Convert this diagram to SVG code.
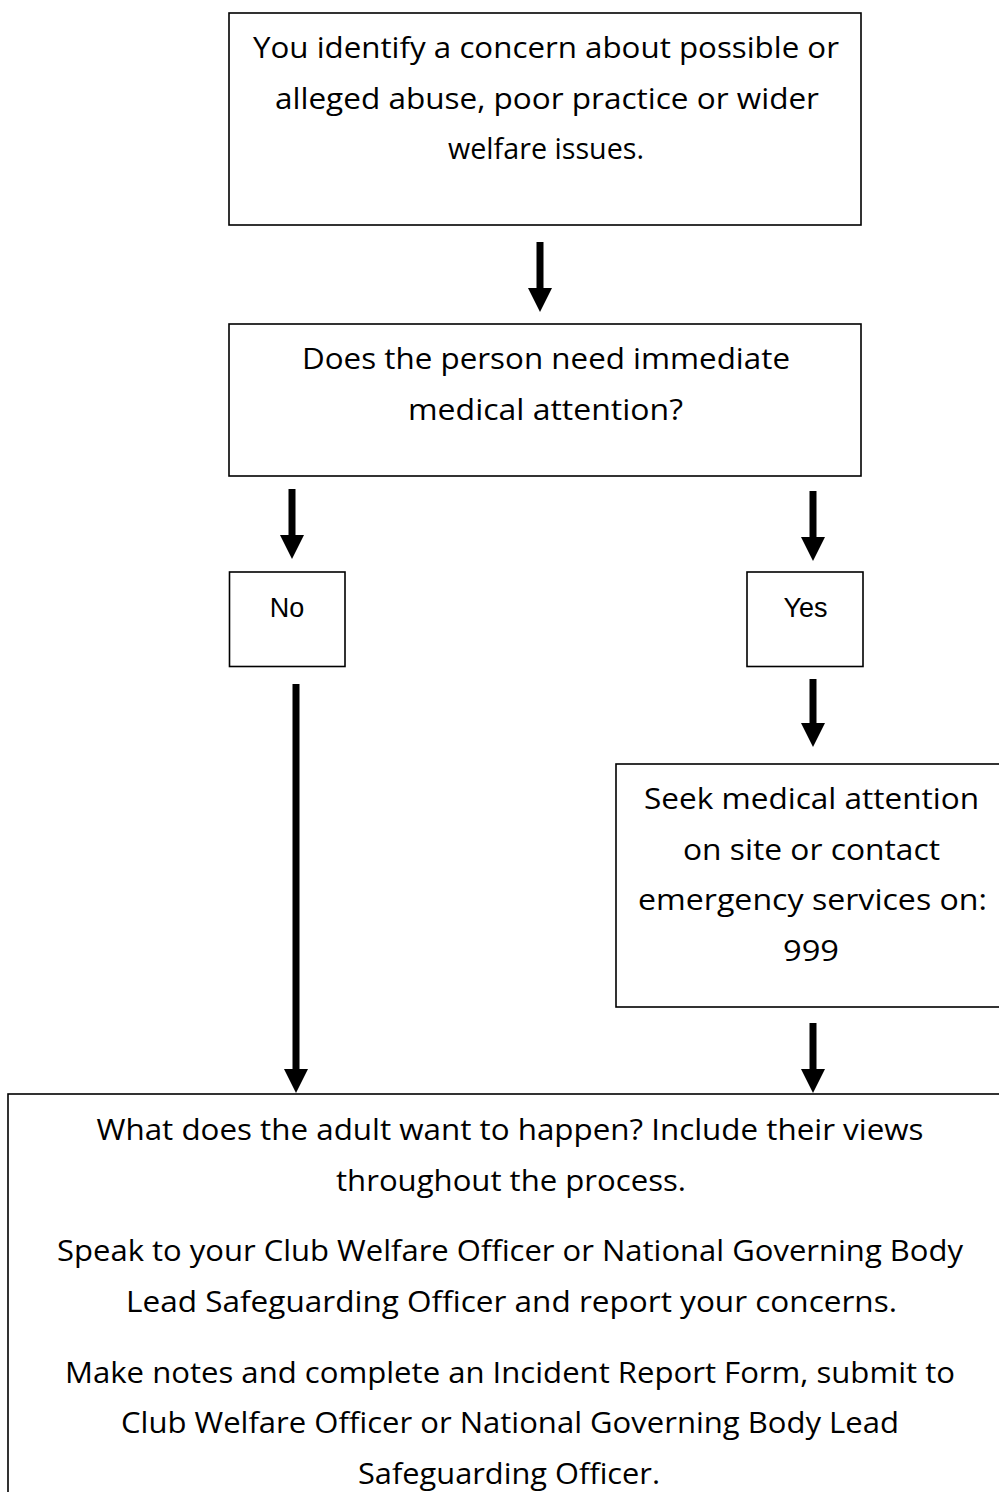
<svg xmlns="http://www.w3.org/2000/svg" width="999" height="1492" viewBox="0 0 999 1492">
<style>
.box{fill:#fff;stroke:#000;stroke-width:1.6}
.t{font-family:"Open Sans","Noto Sans",sans-serif;font-size:29px;fill:#000;text-anchor:middle}
.a{font-family:"Liberation Sans",Arial,sans-serif;font-size:27px;fill:#000;text-anchor:middle}
.arr{stroke:#000;stroke-width:7;fill:none;marker-end:url(#head)}
</style>
<defs>
<marker id="head" viewBox="0 0 24 24" refX="0" refY="12" markerWidth="24" markerHeight="24" markerUnits="userSpaceOnUse" orient="auto">
<path d="M0,0 L24,12 L0,24 Z" fill="#000"/>
</marker>
</defs>
<rect width="999" height="1492" fill="#fff"/>
<g id="connectors">
<line class="arr" x1="540" y1="242" x2="540" y2="288"/>
<line class="arr" x1="292" y1="489" x2="292" y2="535"/>
<line class="arr" x1="813" y1="491" x2="813" y2="537"/>
<line class="arr" x1="296" y1="684" x2="296" y2="1069"/>
<line class="arr" x1="813" y1="679" x2="813" y2="723"/>
<line class="arr" x1="813" y1="1023" x2="813" y2="1069"/>
</g>
<g id="node-concern">
<rect class="box" x="229" y="13" width="632" height="212"/>
<text class="t" x="546" y="58" textLength="586" lengthAdjust="spacingAndGlyphs">You identify a concern about possible or</text>
<text class="t" x="547" y="108.5" textLength="544" lengthAdjust="spacingAndGlyphs">alleged abuse, poor practice or wider</text>
<text class="t" x="546" y="159" textLength="196" lengthAdjust="spacingAndGlyphs">welfare issues.</text>
</g>
<g id="node-question">
<rect class="box" x="229" y="324" width="632" height="152"/>
<text class="t" x="546" y="369" textLength="488" lengthAdjust="spacingAndGlyphs">Does the person need immediate</text>
<text class="t" x="545.5" y="419.5" textLength="275" lengthAdjust="spacingAndGlyphs">medical attention?</text>
</g>
<g id="node-no">
<rect class="box" x="229.5" y="572" width="115.5" height="94.5"/>
<text class="a" x="287" y="617">No</text>
</g>
<g id="node-yes">
<rect class="box" x="747" y="572" width="116" height="94.5"/>
<text class="a" x="805.5" y="617">Yes</text>
</g>
<g id="node-medical">
<rect class="box" x="616" y="764" width="420" height="243"/>
<text class="t" x="811.5" y="809" textLength="335" lengthAdjust="spacingAndGlyphs">Seek medical attention</text>
<text class="t" x="811.5" y="859.5" textLength="257" lengthAdjust="spacingAndGlyphs">on site or contact</text>
<text class="t" x="812.5" y="910" textLength="349" lengthAdjust="spacingAndGlyphs">emergency services on:</text>
<text class="t" x="811" y="960.5" textLength="56" lengthAdjust="spacingAndGlyphs">999</text>
</g>
<g id="node-actions">
<rect class="box" x="8" y="1094" width="1100" height="500"/>
<text class="t" x="510" y="1140" textLength="827" lengthAdjust="spacingAndGlyphs">What does the adult want to happen? Include their views</text>
<text class="t" x="511" y="1190.5" textLength="350" lengthAdjust="spacingAndGlyphs">throughout the process.</text>
<text class="t" x="510" y="1261" textLength="906" lengthAdjust="spacingAndGlyphs">Speak to your Club Welfare Officer or National Governing Body</text>
<text class="t" x="511.5" y="1311.5" textLength="771" lengthAdjust="spacingAndGlyphs">Lead Safeguarding Officer and report your concerns.</text>
<text class="t" x="510" y="1382.5" textLength="890" lengthAdjust="spacingAndGlyphs">Make notes and complete an Incident Report Form, submit to</text>
<text class="t" x="510" y="1433" textLength="778" lengthAdjust="spacingAndGlyphs">Club Welfare Officer or National Governing Body Lead</text>
<text class="t" x="509" y="1483.5" textLength="302" lengthAdjust="spacingAndGlyphs">Safeguarding Officer.</text>
</g>
</svg>
